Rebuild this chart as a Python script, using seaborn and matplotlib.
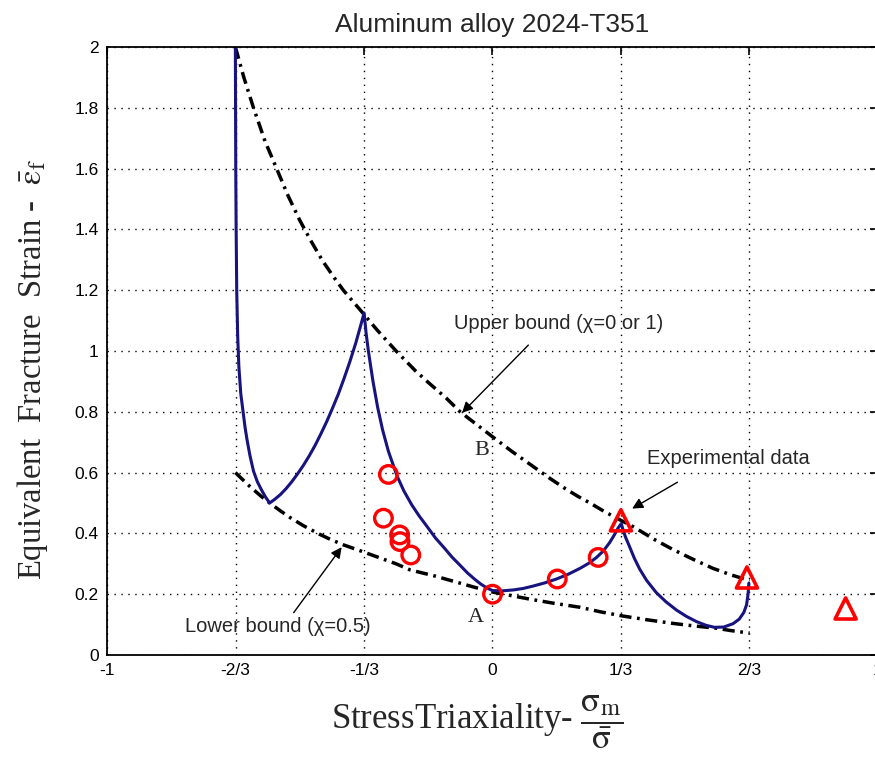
import matplotlib
matplotlib.use("Agg")
import matplotlib.pyplot as plt
import seaborn as sns

# Fracture locus of 2024-T351 (blue curve), stress triaxiality vs. fracture strain
locus_eta = [-0.667, -0.6665, -0.666, -0.665, -0.6635, -0.661, -0.658, -0.653, -0.647,
             -0.642, -0.637, -0.629, -0.620, -0.610, -0.598, -0.588, -0.578,
             -0.565, -0.550, -0.535, -0.520, -0.505, -0.490, -0.475, -0.460, -0.445,
             -0.430, -0.415, -0.400, -0.385, -0.370, -0.355, -0.345, -0.333,
             -0.328, -0.322, -0.316, -0.310, -0.298, -0.285, -0.270, -0.248, -0.230,
             -0.210, -0.190, -0.170, -0.148, -0.125, -0.105, -0.084, -0.065, -0.045,
             -0.030, -0.015, 0.000,
             0.025, 0.054, 0.080, 0.106, 0.135, 0.166, 0.197, 0.227, 0.250, 0.270,
             0.288, 0.304, 0.316, 0.326, 0.334,
             0.338, 0.345, 0.356, 0.368, 0.382, 0.400, 0.425, 0.450, 0.477, 0.503,
             0.529, 0.553, 0.576, 0.600, 0.624, 0.640, 0.652, 0.659, 0.663, 0.665]
locus_eps = [2.000, 1.800, 1.600, 1.400, 1.200, 1.050, 0.950, 0.860, 0.800,
             0.750, 0.710, 0.655, 0.605, 0.570, 0.540, 0.518, 0.500,
             0.512, 0.528, 0.548, 0.571, 0.597, 0.625, 0.656, 0.690, 0.728,
             0.768, 0.812, 0.858, 0.910, 0.965, 1.025, 1.070, 1.125,
             1.060, 1.000, 0.950, 0.900, 0.815, 0.740, 0.670, 0.590, 0.540,
             0.495, 0.457, 0.423, 0.385, 0.352, 0.322, 0.295, 0.270, 0.248,
             0.233, 0.221, 0.212,
             0.211, 0.214, 0.219, 0.227, 0.237, 0.250, 0.266, 0.285, 0.302, 0.321,
             0.343, 0.370, 0.395, 0.418, 0.432,
             0.415, 0.388, 0.355, 0.318, 0.282, 0.245, 0.205, 0.175, 0.148, 0.127,
             0.110, 0.098, 0.091, 0.092, 0.103, 0.118, 0.140, 0.165, 0.200, 0.236]

# Upper bound (chi = 0 or 1)
upper_eta = [-0.667, -0.645, -0.620, -0.590, -0.560, -0.530, -0.500, -0.470, -0.440,
             -0.410, -0.387, -0.360, -0.333, -0.300, -0.250, -0.200, -0.167, -0.120,
             -0.084, -0.040, 0.000, 0.050, 0.100, 0.150, 0.188, 0.220, 0.253, 0.290,
             0.333, 0.365, 0.420, 0.468, 0.520, 0.572, 0.620, 0.667]
upper_eps = [2.000, 1.900, 1.800, 1.690, 1.600, 1.510, 1.430, 1.360, 1.295,
             1.240, 1.200, 1.160, 1.120, 1.070, 1.000, 0.935, 0.897, 0.845,
             0.800, 0.757, 0.718, 0.670, 0.625, 0.580, 0.548, 0.523, 0.500, 0.472,
             0.443, 0.422, 0.380, 0.347, 0.315, 0.285, 0.263, 0.245]

# Lower bound (chi = 0.5)
lower_eta = [-0.667, -0.630, -0.600, -0.578, -0.550, -0.525, -0.490, -0.450, -0.420,
             -0.386, -0.350, -0.300, -0.250, -0.214, -0.150, -0.100, -0.050, 0.000,
             0.050, 0.100, 0.160, 0.227, 0.280, 0.339, 0.400, 0.468, 0.520, 0.581,
             0.620, 0.667]
lower_eps = [0.600, 0.555, 0.522, 0.500, 0.474, 0.452, 0.425, 0.398, 0.380,
             0.362, 0.346, 0.323, 0.300, 0.280, 0.260, 0.242, 0.224, 0.207,
             0.195, 0.183, 0.170, 0.157, 0.142, 0.128, 0.116, 0.104, 0.096, 0.088,
             0.080, 0.072]

# Experimental data
circle_eta = [-0.270, -0.283, -0.241, -0.240, -0.212, 0.000, 0.168, 0.274]
circle_eps = [0.594, 0.450, 0.395, 0.373, 0.329, 0.200, 0.250, 0.321]
triangle_eta = [0.333, 0.660, 0.916]
triangle_eps = [0.443, 0.255, 0.153]

x_ticks = [-1, -2/3, -1/3, 0, 1/3, 2/3, 1]
x_tick_labels = ["-1", "-2/3", "-1/3", "0", "1/3", "2/3", "1"]
y_ticks = [0, 0.2, 0.4, 0.6, 0.8, 1.0, 1.2, 1.4, 1.6, 1.8, 2.0]
y_tick_labels = ["0", "0.2", "0.4", "0.6", "0.8", "1", "1.2", "1.4", "1.6", "1.8", "2"]

sns.set_theme(style="white")
plt.rcParams["font.family"] = ["Liberation Sans", "DejaVu Sans"]
plt.rcParams["mathtext.fontset"] = "stix"

fig = plt.figure(figsize=(8.75, 7.6), dpi=100)
ax = fig.add_axes([107 / 875, 105 / 760, 771 / 875, 608 / 760])

bound_style = (0, (3.5, 1.6, 0.8, 1.6))
sns.lineplot(x=upper_eta, y=upper_eps, sort=False, estimator=None, ax=ax,
             color="black", linewidth=2.5, linestyle=bound_style)
sns.lineplot(x=lower_eta, y=lower_eps, sort=False, estimator=None, ax=ax,
             color="black", linewidth=2.5, linestyle=bound_style)
sns.lineplot(x=locus_eta, y=locus_eps, sort=False, estimator=None, ax=ax,
             color="#17137f", linewidth=2.2)

sns.scatterplot(x=circle_eta, y=circle_eps, marker="o", s=160, ax=ax, zorder=5)
circles = ax.collections[-1]
circles.set_facecolor("none")
circles.set_edgecolor("red")
circles.set_linewidth(2.4)

sns.scatterplot(x=triangle_eta, y=triangle_eps, marker="^", s=230, ax=ax, zorder=5)
tris = ax.collections[-1]
tris.set_facecolor("none")
tris.set_edgecolor("red")
tris.set_linewidth(2.6)

ax.set_xlim(-1, 1)
ax.set_ylim(0, 2)
ax.set_xticks(x_ticks)
ax.set_xticklabels(x_tick_labels)
ax.set_yticks(y_ticks)
ax.set_yticklabels(y_tick_labels)
ax.tick_params(axis="both", direction="in", length=6, width=1.2, labelsize=12.5,
               top=True, right=True, colors="black")
ax.tick_params(axis="x", pad=6)
ax.tick_params(axis="y", pad=6)
ax.grid(True, color="black", linestyle=(0, (1, 4)), linewidth=1)
for sp in ax.spines.values():
    sp.set_color("black")
    sp.set_linewidth(1.3)

ax.set_title("Aluminum alloy 2024-T351", fontsize=19, pad=11)
ax.set_xlabel(r"StressTriaxiality- $\dfrac{\mathrm{σ}_{\mathrm{m}}}{\bar{\mathrm{σ}}}$",
              family="Liberation Serif", fontsize=25)
ax.set_ylabel(r"Equivalent  Fracture  Strain -  $\bar{\mathrm{ε}}_{\mathrm{f}}$",
              family="Liberation Serif", fontsize=23.5)
ax.xaxis.set_label_coords(0.48, -0.062)
ax.yaxis.set_label_coords(-0.074, 0.47)

arrow = dict(arrowstyle="-|>", color="black", lw=1.0, mutation_scale=16)
ax.annotate("Upper bound (χ=0 or 1)", xy=(-0.10, 1.09), fontsize=14.5,
            ha="left", va="center")
ax.annotate("", xy=(-0.084, 0.790), xytext=(0.098, 1.026), arrowprops=arrow)
ax.annotate("Experimental data", xy=(0.40, 0.647), fontsize=14.5, ha="left", va="center")
ax.annotate("", xy=(0.356, 0.477), xytext=(0.486, 0.573), arrowprops=arrow)
ax.annotate("Lower bound (χ=0.5)", xy=(-0.797, 0.093), fontsize=14.5, ha="left", va="center")
ax.annotate("", xy=(-0.387, 0.362), xytext=(-0.52, 0.132), arrowprops=arrow)
ax.text(-0.027, 0.674, "B", family="Liberation Serif", fontsize=16, ha="center", va="center")
ax.text(-0.043, 0.125, "A", family="Liberation Serif", fontsize=16, ha="center", va="center")

fig.savefig("out.png", dpi=100)
